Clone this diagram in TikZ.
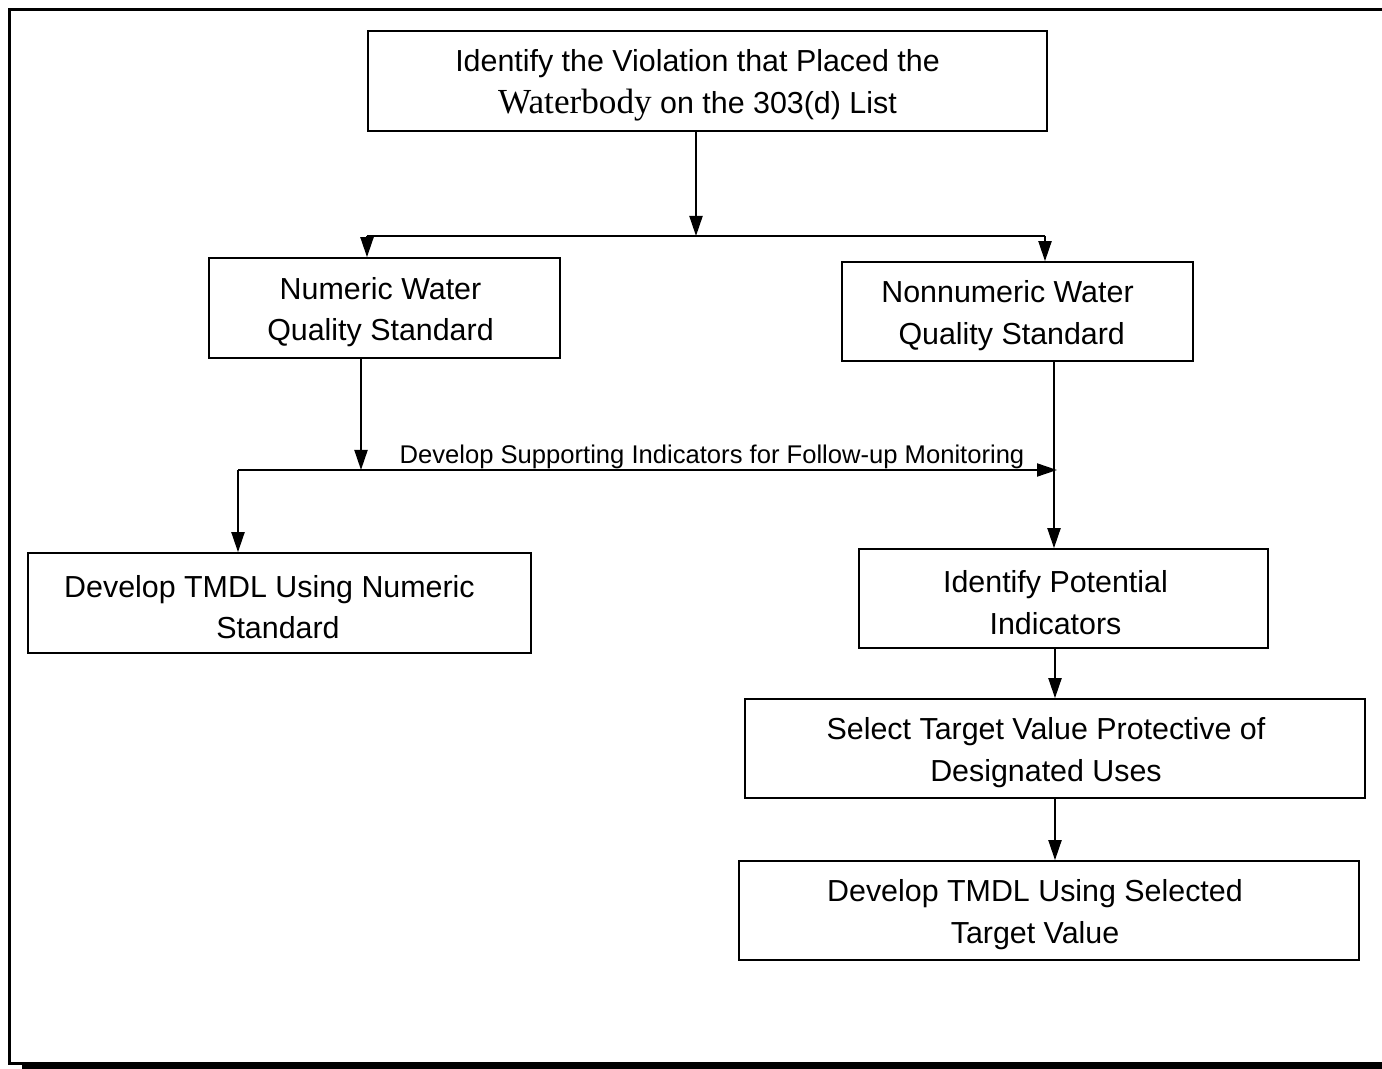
\documentclass[tikz,border=0pt]{standalone}
\usepackage{fontspec}
\setmainfont{Liberation Sans}
\newfontfamily\wbfont{Liberation Serif}
\usetikzlibrary{arrows.meta}

\begin{document}
\begin{tikzpicture}[x=0.5pt,y=-0.5pt,
  box/.style={draw, line width=0.8pt, inner sep=0pt},
  txt/.style={align=center, inner sep=0pt, yshift=-2pt, font=\fontsize{15.2}{20.8}\selectfont},
  note/.style={inner sep=0pt, font=\fontsize{12.8}{15}\selectfont},
  link/.style={line width=1pt},
  arr/.style={line width=1pt, -{Triangle[length=10pt,width=6.5pt]}},
  frame/.style={line width=1.5pt}]
\useasboundingbox (0,0) rectangle (1382,1069);
% outer frame with shadow
\draw[frame] (1395,9.5) -- (9.5,9.5) -- (9.5,1063) -- (1395,1063);
\fill (22,1063) rectangle (1395,1069);
% boxes
\node[box, minimum width=339.5pt, minimum height=50pt] (viol) at (707.5,81) {};
\node[box, minimum width=175.5pt, minimum height=50pt] (num) at (384.5,308) {};
\node[box, minimum width=175.5pt, minimum height=49.5pt] (nonnum) at (1017.5,311.5) {};
\node[box, minimum width=251.5pt, minimum height=50pt] (tmdlnum) at (279.5,603) {};
\node[box, minimum width=204.5pt, minimum height=49.5pt] (ident) at (1063.5,598.5) {};
\node[box, minimum width=310pt, minimum height=49.5pt] (select) at (1055,748.5) {};
\node[box, minimum width=310pt, minimum height=49.5pt] (tmdlsel) at (1049,910.5) {};
% texts
\node[txt] (violtxt) at ([xshift=-5pt]viol.center) {Identify the Violation that Placed the\\{\wbfont\fontsize{17.6}{20.8}\selectfont Waterbody} on the 303(d) List};
\node[txt] (numtxt) at ([xshift=-2pt]num.center) {Numeric Water\\Quality Standard};
\node[txt] (nonnumtxt) at ([xshift=-5pt]nonnum.center) {Nonnumeric Water\\ \ Quality Standard};
\node[txt] (tmdlnumtxt) at ([xshift=-5pt]tmdlnum.center) {Develop TMDL Using Numeric\\ \ \ Standard};
\node[txt] (identtxt) at ([xshift=-4pt]ident.center) {Identify Potential\\Indicators};
\node[txt] (selecttxt) at ([xshift=-4.5pt]select.center) {Select Target Value Protective of\\Designated Uses};
\node[txt] (tmdlseltxt) at ([xshift=-7pt]tmdlsel.center) {Develop TMDL Using Selected\\Target Value};
\node[note] (supp) at (712,457) {Develop Supporting Indicators for Follow-up Monitoring};
% junctions
\coordinate (split1) at (696,236);
\coordinate (lt1) at (367,236);
\coordinate (rt1) at (1045,236);
\coordinate (split2) at (361,470);
\coordinate (lt2) at (238,470);
\coordinate (rt2) at (1057,470);
\coordinate (rcol) at (1054,470);
% connectors
\draw[arr] (split1 |- viol.south) -- (split1);
\draw[link] (lt1) -- (rt1);
\draw[arr] (lt1) -- (lt1 |- num.north);
\draw[arr] (rt1) -- (rt1 |- nonnum.north);
\draw[arr] (split2 |- num.south) -- (split2);
\draw[arr] (lt2) -- (rt2);
\draw[arr] (lt2) -- (lt2 |- tmdlnum.north);
\draw[arr] (rcol |- nonnum.south) -- (rcol |- ident.north);
\draw[arr] (select.north |- ident.south) -- (select.north);
\draw[arr] (select.south) -- (select.south |- tmdlsel.north);
\end{tikzpicture}
\end{document}
